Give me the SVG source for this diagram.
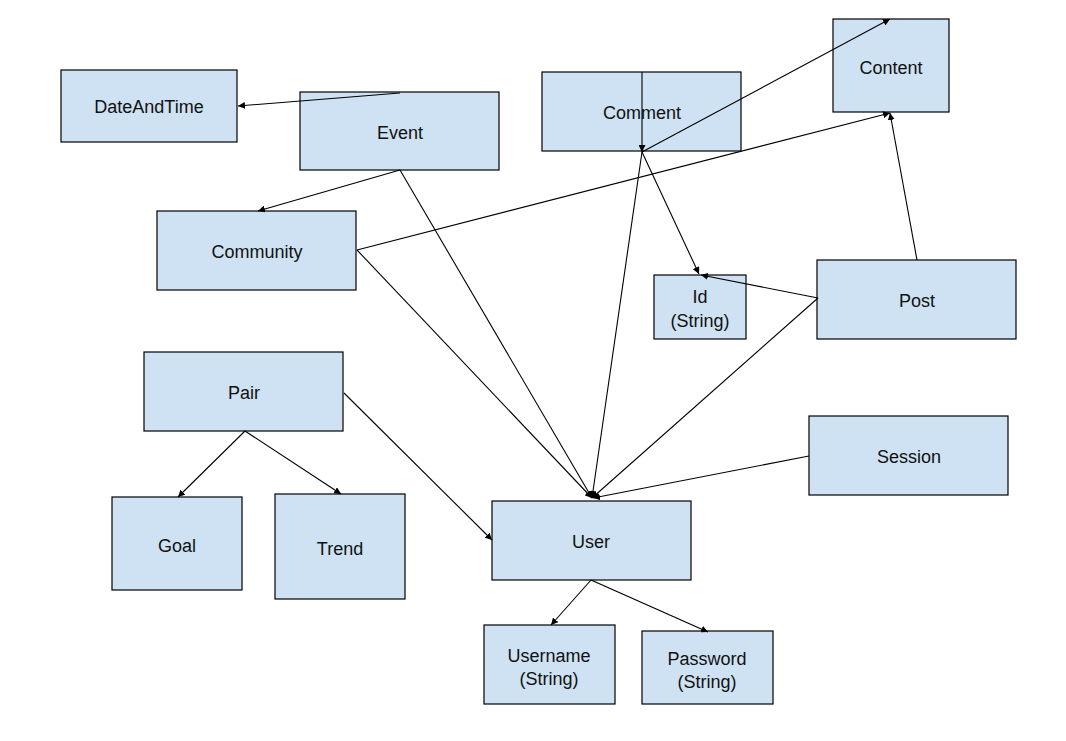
<svg xmlns="http://www.w3.org/2000/svg" width="1066" height="741" viewBox="0 0 1066 741">
<defs>
<marker id="arr" viewBox="0 0 10 10" refX="10" refY="5" markerWidth="7" markerHeight="7" markerUnits="userSpaceOnUse" orient="auto">
<path d="M0,0 L10,5 L0,10 z" fill="#000"/>
</marker>
</defs>
<style>
.n rect{fill:#cfe2f3;stroke:#000;stroke-width:1.2}
.n text{font-family:"Liberation Sans",Arial,sans-serif;font-size:18px;fill:#111;text-anchor:middle}
#connectors line{stroke:#000;stroke-width:1.1;fill:none}
#connectors .a{marker-end:url(#arr)}
</style>
<rect width="1066" height="741" fill="#fff"/>
<g id="nodes" class="n">
<g id="dateandtime"><rect x="61" y="70" width="176" height="72"/><text x="149" y="113">DateAndTime</text></g>
<g id="event"><rect x="300" y="92" width="199" height="78"/><text x="400" y="139">Event</text></g>
<g id="comment"><rect x="542" y="72" width="199" height="79"/><text x="642" y="119">Comment</text></g>
<g id="content"><rect x="833" y="19" width="116" height="93"/><text x="891" y="74">Content</text></g>
<g id="community"><rect x="157" y="211" width="199" height="79"/><text x="257" y="258">Community</text></g>
<g id="id"><rect x="654" y="275" width="92" height="64"/><text x="700" y="303">Id</text><text x="700" y="327">(String)</text></g>
<g id="post"><rect x="817" y="260" width="199" height="79"/><text x="917" y="307">Post</text></g>
<g id="pair"><rect x="144" y="352" width="199" height="79"/><text x="244" y="399">Pair</text></g>
<g id="session"><rect x="809" y="416" width="199" height="79"/><text x="909" y="463">Session</text></g>
<g id="goal"><rect x="112" y="497" width="130" height="93"/><text x="177" y="552">Goal</text></g>
<g id="trend"><rect x="275" y="494" width="130" height="105"/><text x="340" y="555">Trend</text></g>
<g id="user"><rect x="492" y="501" width="199" height="79"/><text x="591" y="548">User</text></g>
<g id="username"><rect x="484" y="625" width="131" height="79"/><text x="549" y="662">Username</text><text x="549" y="685">(String)</text></g>
<g id="password"><rect x="642" y="631" width="131" height="73"/><text x="707" y="665">Password</text><text x="707" y="688">(String)</text></g>
</g>
<g id="connectors">
<line class="a" x1="400" y1="93" x2="238" y2="106"/>
<line class="a" x1="400" y1="170" x2="258" y2="211"/>
<line class="a" x1="400" y1="170" x2="592" y2="498"/>
<line class="a" x1="642" y1="72" x2="642" y2="152"/>
<line class="a" x1="642" y1="152" x2="890" y2="19"/>
<line class="a" x1="642" y1="152" x2="699" y2="274"/>
<line class="a" x1="642" y1="152" x2="592" y2="498"/>
<line class="a" x1="357" y1="250" x2="890" y2="113"/>
<line class="a" x1="357" y1="250" x2="592" y2="498"/>
<line class="a" x1="917" y1="260" x2="890" y2="113"/>
<line class="a" x1="818" y1="298" x2="701" y2="275"/>
<line class="a" x1="818" y1="298" x2="592" y2="498"/>
<line class="a" x1="809" y1="456" x2="593" y2="498"/>
<line class="a" x1="344" y1="393" x2="492" y2="540"/>
<line class="a" x1="245" y1="431" x2="178" y2="497"/>
<line class="a" x1="245" y1="431" x2="341" y2="494"/>
<line class="a" x1="591" y1="580" x2="551" y2="625"/>
<line class="a" x1="591" y1="580" x2="708" y2="632"/>
</g>
</svg>
